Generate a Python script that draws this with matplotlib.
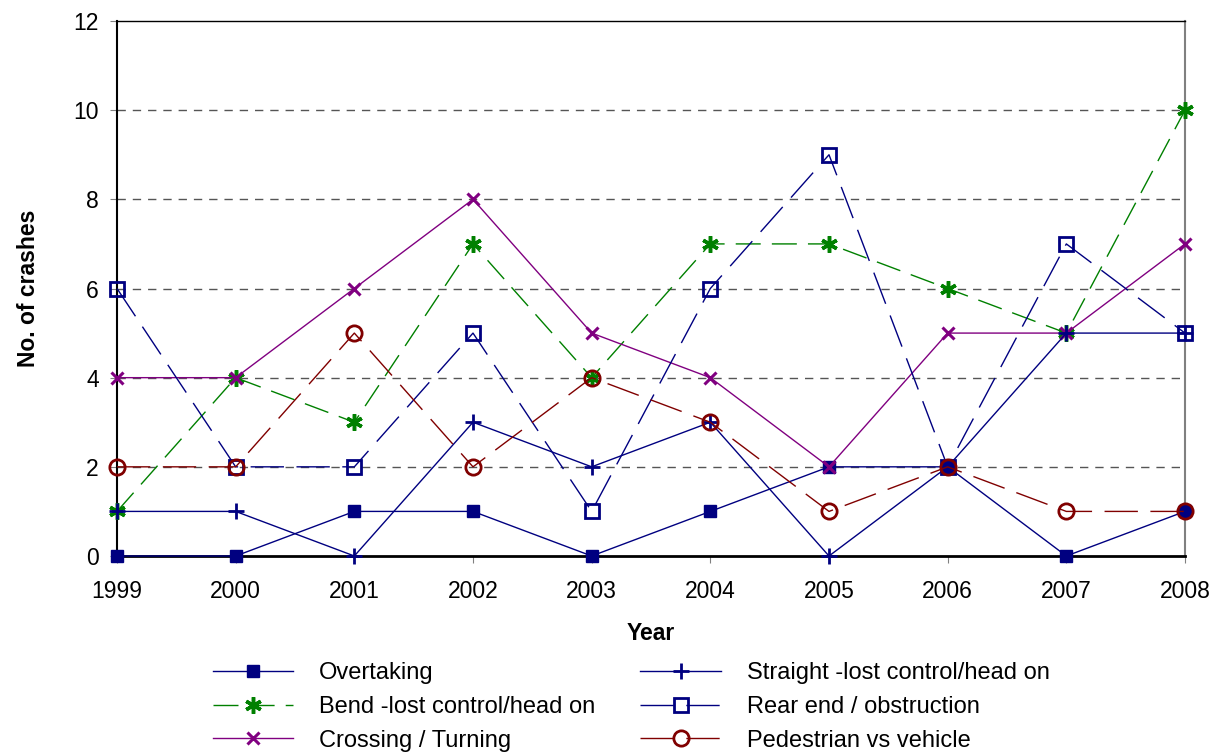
import matplotlib
matplotlib.use("Agg")
import matplotlib.pyplot as plt

plt.rcParams['font.family'] = ['Liberation Sans', 'DejaVu Sans']

years = [1999, 2000, 2001, 2002, 2003, 2004, 2005, 2006, 2007, 2008]
overtaking = [0, 0, 1, 1, 0, 1, 2, 2, 0, 1]
straight = [1, 1, 0, 3, 2, 3, 0, 2, 5, 5]
bend = [1, 4, 3, 7, 4, 7, 7, 6, 5, 10]
rear_end = [6, 2, 2, 5, 1, 6, 9, 2, 7, 5]
crossing = [4, 4, 6, 8, 5, 4, 2, 5, 5, 7]
pedestrian = [2, 2, 5, 2, 4, 3, 1, 2, 1, 1]

navy = '#000080'
green = '#008000'
purple = '#800080'
dred = '#800000'

fig = plt.figure(figsize=(12.2, 7.54), dpi=100)
ax = fig.add_axes([117/1220, 1 - 556/754, (1185-117)/1220, (556-21)/754])

for y in [2, 4, 6, 8, 10]:
    ax.axhline(y, color='#555555', lw=1, ls=(0, (6, 5)), zorder=0)

lw = 1.0
h_over, = ax.plot(years, overtaking, color=navy, lw=lw, marker='s', ms=8,
                  mfc=navy, mec=navy, label='Overtaking', zorder=3)
h_bend, = ax.plot(years, bend, color=green, lw=lw, ls=(0, (18, 8)), marker=(6, 2, 0), ms=12,
                  mew=2.5, mec=green, label='Bend -lost control/head on', zorder=3)
h_cross, = ax.plot(years, crossing, color=purple, lw=lw, marker='x', ms=8, mew=2.2,
                   mec=purple, label='Crossing / Turning', zorder=3)
h_str, = ax.plot(years, straight, color=navy, lw=lw, marker='+', ms=11, mew=2,
                 mec=navy, label='Straight -lost control/head on', zorder=3)
h_rear, = ax.plot(years, rear_end, color=navy, lw=lw, ls=(0, (24, 9)), marker='s', ms=10,
                  mfc='none', mec=navy, mew=2, label='Rear end / obstruction', zorder=3)
h_ped, = ax.plot(years, pedestrian, color=dred, lw=lw, ls=(0, (24, 9)), marker='o', ms=11,
                 mfc='none', mec=dred, mew=2, label='Pedestrian vs vehicle', zorder=3)

ax.set_xlim(1999, 2008)
ax.set_ylim(0, 12)
ax.set_xticks(years)
ax.set_yticks(range(0, 13, 2))
ax.tick_params(axis='both', labelsize=16.5, direction='out', length=5, color='#808080')
ax.tick_params(axis='y', pad=8)
ax.tick_params(axis='x', pad=12)

ax.spines['left'].set_color('black')
ax.spines['left'].set_linewidth(1.5)
ax.spines['bottom'].set_color('black')
ax.spines['bottom'].set_linewidth(2)
ax.spines['top'].set_color('black')
ax.spines['top'].set_linewidth(1)
ax.spines['right'].set_color('#808080')
ax.spines['right'].set_linewidth(1.5)
for ln in ax.lines:
    ln.set_clip_on(False)

ax.set_xlabel('Year', fontsize=16.5, fontweight='bold', labelpad=14)
ax.set_ylabel('No. of crashes', fontsize=16.5, fontweight='bold', labelpad=24)

handles = [h_over, h_bend, h_cross, h_str, h_rear, h_ped]
fig.legend(handles=handles, labels=[h.get_label() for h in handles],
           loc='upper left', bbox_to_anchor=(213/1220, 1 - 662/754), ncol=2, frameon=False,
           fontsize=17, handlelength=3.4, handletextpad=1.1, columnspacing=1.9,
           labelspacing=0.5, borderpad=0, borderaxespad=0)

fig.savefig('out.png', dpi=100)
